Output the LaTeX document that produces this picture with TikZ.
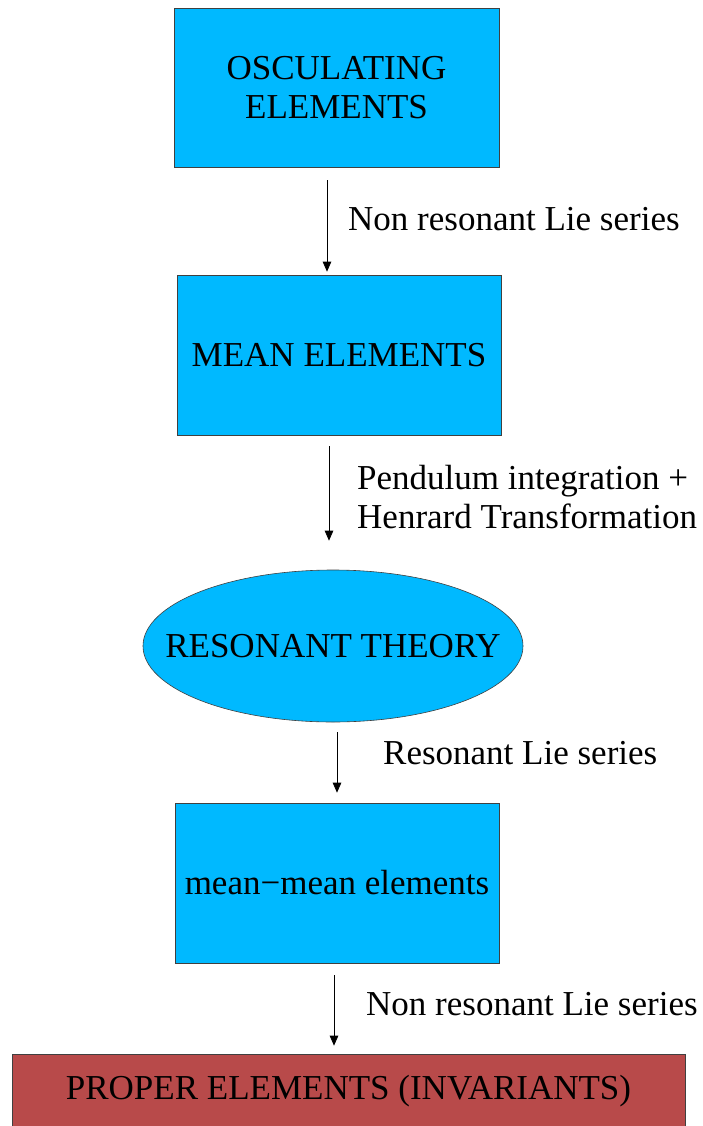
\documentclass[tikz,border=0pt]{standalone}
\usepackage{fontspec}
\setmainfont{Liberation Serif}
\usetikzlibrary{arrows.meta,shapes.geometric}
\definecolor{boxcyan}{RGB}{0,185,255}
\definecolor{boxred}{RGB}{184,74,74}
\tikzset{
  bigtext/.style={font=\fontsize{35}{39.5}\selectfont},
  cyanbox/.style={rectangle, draw=black!75, line width=0.6pt, fill=boxcyan, align=center, bigtext, inner sep=0pt},
  redbox/.style={rectangle, draw=black!75, line width=0.6pt, fill=boxred, align=center, bigtext, inner sep=0pt},
  cyanell/.style={ellipse, draw=black!75, line width=0.6pt, fill=boxcyan, bigtext, inner sep=0pt},
  arr/.style={-{Triangle[length=10pt,width=8.5pt]}, line width=0.8pt, black},
  lbl/.style={anchor=west, align=left, bigtext, inner sep=0pt}
}
\begin{document}
\begin{tikzpicture}[x=1pt,y=-1pt]
\useasboundingbox (0,0) rectangle (703,1126);
\node[cyanbox, minimum width=325pt, minimum height=159pt] (b1) at (336.5,87.5) {OSCULATING\\ELEMENTS};
\node[cyanbox, minimum width=324pt, minimum height=160pt] (b2) at (339,355) {MEAN ELEMENTS};
\node[cyanell, minimum width=380pt, minimum height=152pt] (e3) at (333,646) {\makebox[0pt]{RESONANT THEORY}};
\node[cyanbox, minimum width=324pt, minimum height=160pt] (b4) at (337,883) {mean−mean elements};
\node[redbox, minimum width=673pt, minimum height=74pt] (b5) at (348.5,1091) {PROPER ELEMENTS (INVARIANTS)};

\coordinate (x1) at (327,0);
\coordinate (x2) at (329,0);
\coordinate (x3) at (337,0);
\coordinate (x4) at (334,0);
\draw[arr, shorten <=13pt, shorten >=3pt] (b1.south -| x1) -- (b2.north -| x1);
\draw[arr, shorten <=11pt, shorten >=29pt] (b2.south -| x2) -- (e3.north -| x2);
\draw[arr, shorten <=10pt, shorten >=10pt] (e3.south -| x3) -- (b4.north -| x3);
\draw[arr, shorten <=12pt, shorten >=8pt] (b4.south -| x4) -- (b5.north -| x4);

\node[lbl] (l1) at (348,219) {Non resonant Lie series};
\node[lbl] (l2) at (357,497) {Pendulum integration +\\Henrard Transformation};
\node[lbl] (l3) at (383,753) {Resonant Lie series};
\node[lbl] (l4) at (366,1004) {Non resonant Lie series};
\end{tikzpicture}
\end{document}
